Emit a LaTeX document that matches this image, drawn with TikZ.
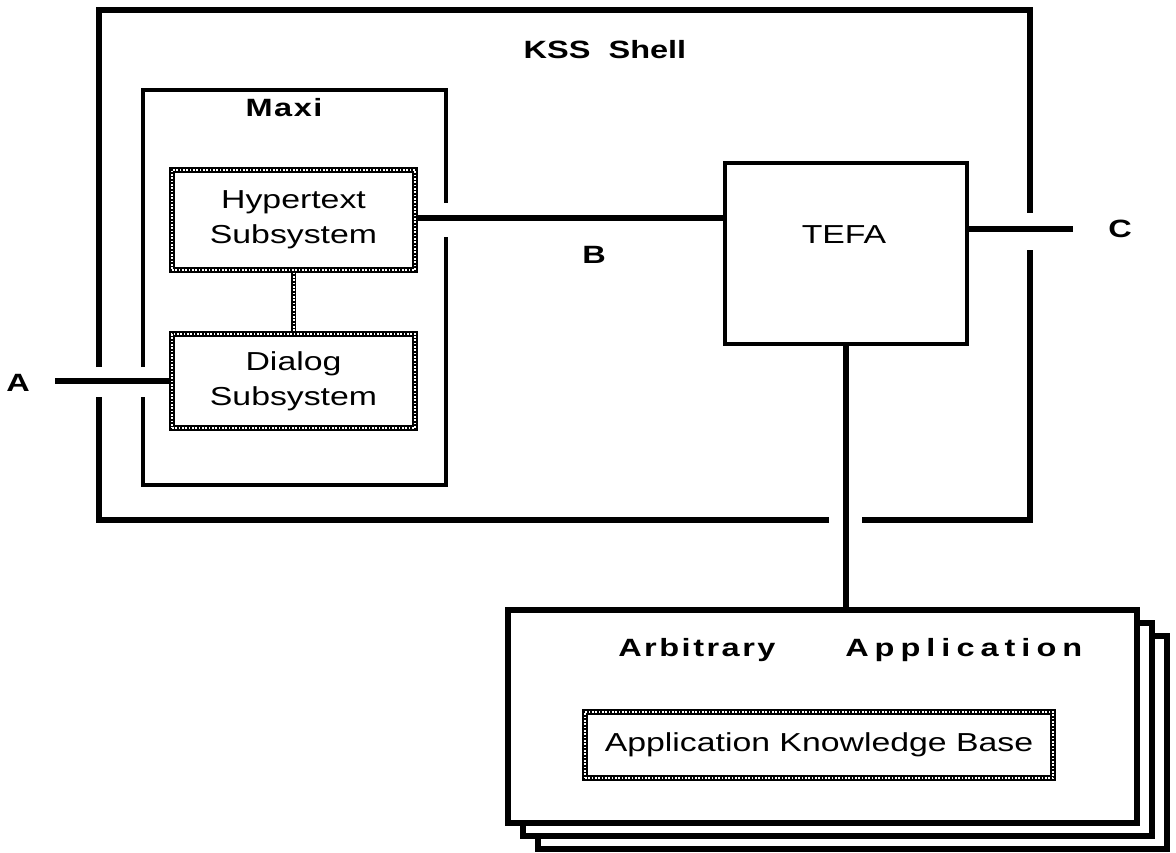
\documentclass[tikz,border=0pt]{standalone}
\usepackage{fontspec}
\setmainfont[FakeStretch=1.3]{Liberation Sans}
\usetikzlibrary{calc}
\begin{document}
\begin{tikzpicture}[x=0.75pt,y=-0.75pt,
  font=\fontsize{19.5pt}{26pt}\selectfont,
  heavy/.style={line width=4.3pt},
  medium/.style={line width=3pt},
  thin/.style={line width=2.3pt},
  texture/.style={draw=black, line width=4pt,
    postaction={draw=white, line width=1.5pt, dash pattern=on 1.2pt off 1.3pt}},
  texbox/.style={texture, rectangle, inner sep=0pt, align=center, fill=white},
  appbox/.style={rectangle, draw, fill=white, line width=4.5pt,
    minimum width=629*0.75pt, minimum height=213*0.75pt, inner sep=0pt},
  lbl/.style={font=\fontsize{18.75pt}{26pt}\selectfont\bfseries, inner sep=0pt}
]
\useasboundingbox (0,0) rectangle (1176,852);

% KSS Shell frame (with gaps)
\draw[heavy] (99,367) -- (99,10) -- (1030,10) -- (1030,213);
\draw[heavy] (1030,250) -- (1030,520) -- (862,520);
\draw[heavy] (829,520) -- (99,520) -- (99,397);
\node[lbl] (kss) at (605,50) {KSS\ \ Shell};

% Maxi frame (with gaps)
\draw[medium] (143,367) -- (143,90) -- (446,90) -- (446,203);
\draw[medium] (446,237) -- (446,485) -- (143,485) -- (143,397);
\node[lbl] (maxi) at (284,108) {\addfontfeature{LetterSpace=6}Maxi};

% Subsystems
\node[texbox, minimum width=243*0.75pt, minimum height=100*0.75pt] (hyper) at (293.5,220) {Hypertext\\Subsystem};
\node[texbox, minimum width=243*0.75pt, minimum height=94*0.75pt] (dialog) at (293.5,381) {Dialog\\Subsystem};
\draw[texture] (hyper.south) -- (dialog.north);

% TEFA
\node[draw, thin, rectangle, minimum width=242*0.75pt, minimum height=181*0.75pt, inner sep=0pt] (tefa) at (846,253.5) {};
\node[inner sep=0pt] (tefalbl) at (844,235) {TEFA};

% connectors
\coordinate (aend) at (55,381);
\coordinate (bstart) at (417,218);
\coordinate (cend) at (1073,229);
\draw[heavy] (aend) -- (dialog.west);
\draw[heavy] (bstart) -- (tefa.west |- bstart);
\draw[heavy] (tefa.east |- cend) -- (cend);

\node[lbl] (A) at (18,383) {A};
\node[lbl] (B) at (594,255) {B};
\node[lbl] (C) at (1120,229) {C};

% Application stack
\node[appbox] (app3) at (852.5,742.5) {};
\node[appbox] (app2) at (837.5,729.5) {};
\node[appbox] (app) at (822.5,716.5) {};
\draw[heavy] (tefa.south) -- (tefa.south |- app.north);
\node[lbl, anchor=west] (arb) at (618,650) {\addfontfeature{LetterSpace=10}Arbitrary};
\node[lbl, anchor=west] (appl) at (845,650) {\addfontfeature{LetterSpace=24}Application};
\node[texbox, minimum width=468*0.75pt, minimum height=66*0.75pt] (akb) at (819,745) {Application Knowledge Base};
\end{tikzpicture}
\end{document}
